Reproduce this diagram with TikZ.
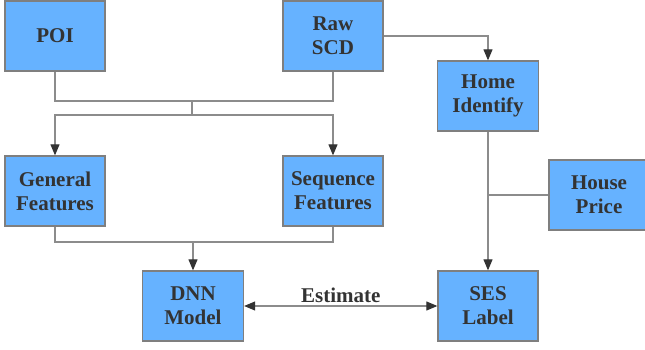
\documentclass[tikz,border=0pt]{standalone}
\usepackage{fontspec}
\setmainfont{Liberation Serif}
\usetikzlibrary{arrows.meta}
\definecolor{boxfill}{HTML}{66B2FF}
\definecolor{boxline}{HTML}{7F7F7F}
\definecolor{linkgray}{HTML}{8C8C8C}
\definecolor{txt}{HTML}{333333}
\tikzset{
  box/.style={draw=boxline, line width=1.3pt, fill=boxfill, rectangle,
    minimum width=100pt, minimum height=70pt, inner sep=2pt, align=center,
    text=txt, font=\fontsize{21}{24}\selectfont\bfseries},
  link/.style={draw=linkgray, line width=1.1pt},
  arr/.style={link, -{Triangle[length=11pt,width=9pt,color=txt]}},
  darr/.style={link, {Triangle[length=11pt,width=9pt,color=txt]}-{Triangle[length=11pt,width=9pt,color=txt]}},
  lbl/.style={text=txt, font=\fontsize{21}{24}\selectfont\bfseries, inner sep=3pt}
}
\begin{document}
\begin{tikzpicture}[x=1pt,y=-1pt]
\useasboundingbox (0,0) rectangle (645,350);
\node[box] (poi) at (55,36) {POI};
\node[box] (raw) at (333,36) {Raw\\SCD};
\node[box, minimum width=101pt] (home) at (488,96) {Home\\Identify};
\node[box] (gen) at (55,191) {General\\Features};
\node[box] (seq) at (333,191) {Sequence\\Features};
\node[box] (house) at (599,195) {House\\Price};
\node[box, minimum width=101pt] (dnn) at (193,306) {DNN\\Model};
\node[box] (ses) at (488,306) {SES\\Label};
\coordinate (m1) at (192,101);
\coordinate (m2) at (192,115);
\coordinate (m3) at (193,242);
\draw[link] (poi.south) |- (m1) -| (raw.south);
\draw[link] (m1) -- (m2);
\draw[arr] (m2) -| (gen.north);
\draw[arr] (m2) -| (seq.north);
\draw[link] (gen.south) |- (m3) -| (seq.south);
\draw[arr] (m3) -- (dnn.north);
\draw[arr] (raw.east) -| (home.north);
\draw[arr] (home.south) -- (ses.north);
\draw[link] (house.west) -- (house.west -| home.south);
\draw[darr] (dnn.east) -- (ses.west) node[lbl, midway, above] {Estimate};
\end{tikzpicture}
\end{document}
